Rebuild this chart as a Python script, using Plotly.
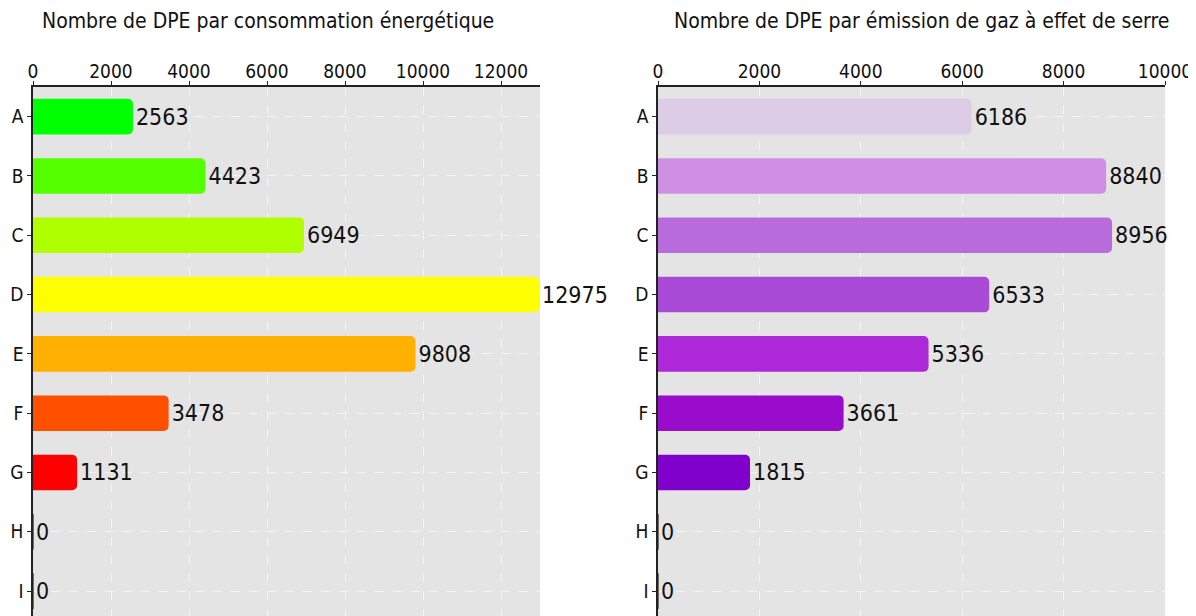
import plotly.graph_objects as go
from plotly.subplots import make_subplots

categories = ["A", "B", "C", "D", "E", "F", "G", "H", "I"]
conso_values = [2563, 4423, 6949, 12975, 9808, 3478, 1131, 0, 0]
ges_values = [6186, 8840, 8956, 6533, 5336, 3661, 1815, 0, 0]
conso_colors = ["#00ff00", "#55ff00", "#b0ff00", "#ffff00", "#ffb000", "#ff5000", "#ff0000", "#444444", "#444444"]
ges_colors = ["#dccce6", "#cf90e3", "#b86cdb", "#a94bd6", "#ad28d9", "#9a0ccc", "#8000cc", "#444444", "#444444"]
conso_title = "Nombre de DPE par consommation énergétique"
ges_title = "Nombre de DPE par émission de gaz à effet de serre"
conso_ticks = [0, 2000, 4000, 6000, 8000, 10000, 12000]
ges_ticks = [0, 2000, 4000, 6000, 8000, 10000]

OFF = 8  # page body margin
W, H = 1196 - OFF, 616 - OFF
ML, MT, MB = 33 - OFF, 87 - OFF, 0
MR = W - (1165 - OFF)
PW = W - ML - MR

fig = make_subplots(rows=1, cols=2)

font = "DejaVu Sans Condensed"


def line_widths(values):
    return [1.5 if v == 0 else 0 for v in values]


fig.add_trace(go.Bar(
    y=categories, x=conso_values, orientation="h",
    marker=dict(color=conso_colors, cornerradius=5,
                line=dict(width=line_widths(conso_values), color="#444444")),
    width=0.6,
    text=[str(v) for v in conso_values], textposition="outside",
    textfont=dict(family=font, size=23, color="#111111"),
    cliponaxis=False, showlegend=False,
), row=1, col=1)

fig.add_trace(go.Bar(
    y=categories, x=ges_values, orientation="h",
    marker=dict(color=ges_colors, cornerradius=5,
                line=dict(width=line_widths(ges_values), color="#444444")),
    width=0.6,
    text=[str(v) for v in ges_values], textposition="outside",
    textfont=dict(family=font, size=23, color="#111111"),
    cliponaxis=False, showlegend=False,
), row=1, col=2)

xcommon = dict(
    side="top", showline=True, linecolor="#222222", linewidth=1.5,
    ticks="outside", ticklen=4, tickcolor="#222222",
    showgrid=True, gridcolor="#f4f4f4", griddash="dash", gridwidth=1,
    zeroline=False, tickfont=dict(family=font, size=19, color="#111111"),
    tickformat="d", automargin=False, ticklabelstandoff=-4,
)
ycommon = dict(
    showline=True, linecolor="#222222", linewidth=1.5,
    ticks="outside", ticklen=4, tickcolor="#222222",
    showgrid=True, gridcolor="#f4f4f4", griddash="dash", gridwidth=1,
    zeroline=False, tickfont=dict(family=font, size=19, color="#111111"),
    range=[8.42, -0.5], categoryorder="array", categoryarray=categories,
    automargin=False,
)

fig.update_xaxes(**xcommon)
fig.update_yaxes(**ycommon)

fig.update_layout(
    xaxis=dict(domain=[0, (540 - 33) / PW], range=[0, 13000], tickvals=conso_ticks),
    xaxis2=dict(domain=[(658 - 33) / PW, 1.0], range=[0, 10000], tickvals=ges_ticks),
    width=W, height=H,
    margin=dict(l=ML, r=MR, t=MT, b=MB, pad=0, autoexpand=False),
    paper_bgcolor="white", plot_bgcolor="#e4e4e4",
    font=dict(family=font, size=19, color="#111111"),
)

fig.add_annotation(text=conso_title, x=(268 - 33) / PW, y=1, xref="paper", yref="paper",
                   yshift=66, xanchor="center", yanchor="middle", showarrow=False,
                   font=dict(family=font, size=21, color="#111111"))
fig.add_annotation(text=ges_title, x=(921 - 33) / PW, y=1, xref="paper", yref="paper",
                   yshift=66, xanchor="center", yanchor="middle", showarrow=False,
                   font=dict(family=font, size=21, color="#111111"))

fig.write_html("out.html")
